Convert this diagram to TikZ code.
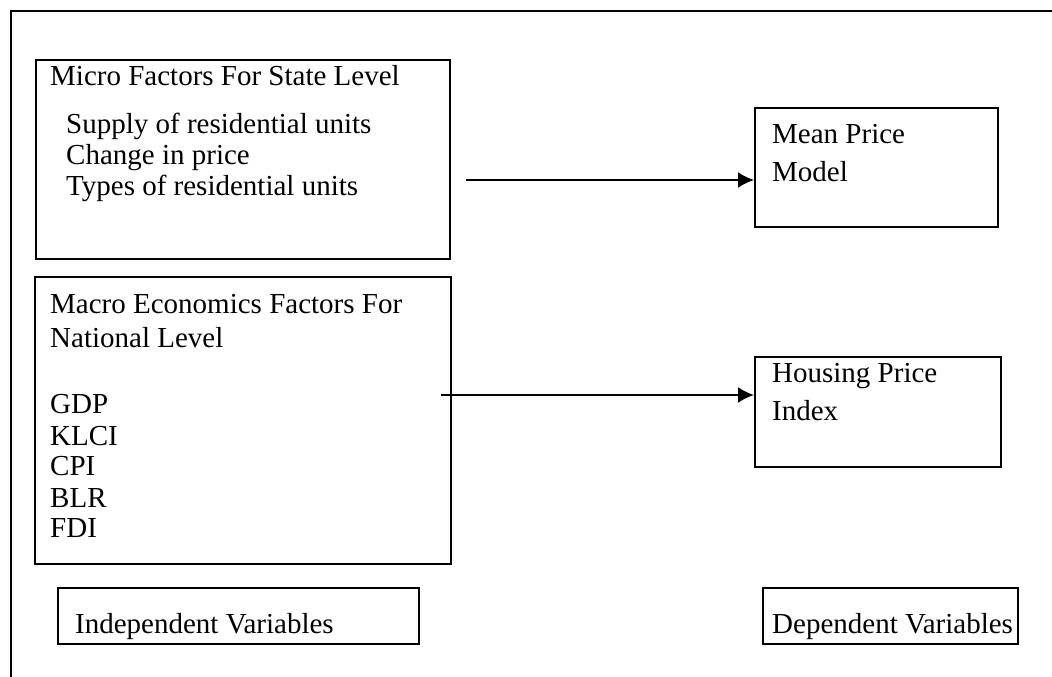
\documentclass[tikz,border=0pt]{standalone}
\usepackage{fontspec}
\setmainfont{Liberation Serif}
\usetikzlibrary{arrows.meta}
\tikzset{
  box/.style={draw=black, line width=2pt, rectangle, inner sep=0pt, anchor=north west},
  txt/.style={anchor=base west, inner sep=0pt, font=\fontsize{29}{31}\selectfont},
  conn/.style={line width=2pt, -{Latex[length=16pt,width=16pt]}},
  frame/.style={line width=2pt}
}
\begin{document}
\begin{tikzpicture}[x=1pt,y=-1pt]
\useasboundingbox (0,0) rectangle (1052,677);
\draw[frame] (1052,11) -- (11,11) -- (11,677);
% boxes
\node[box, minimum width=414pt, minimum height=199pt] (micro) at (35,59) {};
\node[box, minimum width=416pt, minimum height=287pt] (macro) at (34,276) {};
\node[box, minimum width=243pt, minimum height=119pt] (mean) at (754,107) {};
\node[box, minimum width=246pt, minimum height=110pt] (hpi) at (754,356) {};
\node[box, minimum width=361pt, minimum height=56pt] (indep) at (57,587) {};
\node[box, minimum width=255pt, minimum height=56pt] (dep) at (762,587) {};
% texts
\node[txt] (t1) at (50,85) {Micro Factors For State Level};
\node[txt] (t2) at (66,133) {Supply of residential units};
\node[txt] (t3) at (66,164) {Change in price};
\node[txt] (t4) at (66,195) {Types of residential units};
\node[txt] (t5) at (772,143) {Mean Price};
\node[txt] (t6) at (772,181) {Model};
\node[txt] (t7) at (50,313) {Macro Economics Factors For};
\node[txt] (t8) at (50,347) {National Level};
\node[txt] (t9) at (50,413) {GDP};
\node[txt] (t10) at (50,445) {KLCI};
\node[txt] (t11) at (50,475) {CPI};
\node[txt] (t12) at (50,507) {BLR};
\node[txt] (t13) at (50,537) {FDI};
\node[txt] (t14) at (772,382) {Housing Price};
\node[txt] (t15) at (772,420) {Index};
\node[txt] (t16) at (75,633) {Independent Variables};
\node[txt] (t17) at (772,633) {Dependent Variables};
% connectors
\coordinate (a1) at (466,180);
\coordinate (a2) at (441,395);
\draw[conn] (a1) -- (a1 -| mean.west);
\draw[conn] (a2) -- (a2 -| hpi.west);
\end{tikzpicture}
\end{document}
